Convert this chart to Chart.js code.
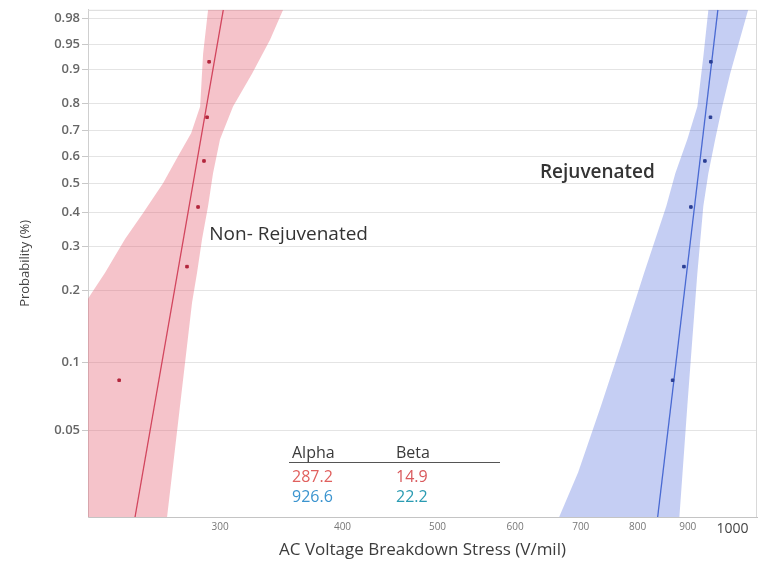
<!DOCTYPE html>
<html>
<head>
<meta charset="utf-8">
<script src="https://cdn.jsdelivr.net/npm/chart.js@4.4.1/dist/chart.umd.min.js"></script>
<style>
html,body{margin:0;padding:0;background:#fff;}
#wrap{width:764px;height:563px;position:relative;}
</style>
</head>
<body>
<div id="wrap"><canvas id="c" width="764" height="563"></canvas></div>
<script>
// ---- data ----
const probTicks = [0.05, 0.1, 0.2, 0.3, 0.4, 0.5, 0.6, 0.7, 0.8, 0.9, 0.95, 0.98];
const probTickLabels = ['0.05', '0.1', '0.2', '0.3', '0.4', '0.5', '0.6', '0.7', '0.8', '0.9', '0.95', '0.98'];
const voltageTicks = [300, 400, 500, 600, 700, 800, 900, 1000];
const probRange = [0.0204, 0.9864];
const voltageRange = [220, 1059];

const plotPositions = [0.0833, 0.25, 0.4167, 0.5833, 0.75, 0.9167];
const nonRejVoltage = [236.7, 277.6, 284.9, 288.9, 291.0, 292.4];
const rejVoltage = [868.6, 892.0, 906.7, 937.0, 949.4, 950.3];

const fitProb = [0.0204, 0.9864];
const nonRejFitVoltage = [245.7, 302.3];
const rejFitVoltage = [838.6, 966.0];

// confidence bands: lower-voltage edge and upper-voltage edge, top to bottom
const nonRejBandLoV = [291.7, 288.3, 286.3, 280.3, 271.8, 262.4, 250.4, 240.0, 228.9, 222.0, 157.6];
const nonRejBandLoP = [0.9864, 0.9334, 0.7886, 0.6897, 0.6012, 0.4997, 0.3968, 0.3194, 0.2361, 0.1961, 0.0204];
const nonRejBandHiV = [347.9, 337.4, 323.5, 309.3, 300.0, 295.1, 291.7, 287.6, 284.2, 280.9, 264.9];
const nonRejBandHiP = [0.9864, 0.9566, 0.8888, 0.7886, 0.6668, 0.5366, 0.4197, 0.3194, 0.2361, 0.1785, 0.0204];

const rejBandLoV = [944.7, 933.6, 920.6, 899.2, 874.2, 855.9, 812.3, 773.2, 734.3, 695.8, 665.4];
const rejBandLoP = [0.9864, 0.9276, 0.7886, 0.6668, 0.5366, 0.4197, 0.2361, 0.1260, 0.0645, 0.0325, 0.0204];
const rejBandHiV = [1037.3, 994.4, 975.9, 960.0, 944.7, 933.6, 920.6, 909.8, 899.2, 882.5];
const rejBandHiP = [0.9864, 0.8888, 0.7886, 0.6668, 0.5366, 0.4197, 0.2361, 0.1260, 0.0645, 0.0204];

const seriesNames = ['Non- Rejuvenated', 'Rejuvenated'];
const tableHeaders = ['Alpha', 'Beta'];
const nonRejParams = ['287.2', '14.9'];
const rejParams = ['926.6', '22.2'];

// ---- helpers ----
const W = p => Math.log(-Math.log(1 - p));   // Weibull probability transform
const pts = (vs, ps) => vs.map((v, i) => ({x: v, y: W(ps[i])}));
const polygon = (loV, loP, hiV, hiP) => pts(loV, loP).concat(pts(hiV, hiP).reverse());

const FONT = "'Open Sans', 'DejaVu Sans', sans-serif";

const labelAnchors = [
  {v: 292.5, p: 0.333, weight: '400', size: 19},
  {v: 636, p: 0.540, weight: '600', size: 19}
];

const overlayPlugin = {
  id: 'overlay',
  beforeDatasetsDraw(chart) {
    const {ctx, chartArea: a} = chart;
    ctx.save();
    ctx.strokeStyle = '#d9d9d9';
    ctx.lineWidth = 1;
    ctx.beginPath();
    ctx.moveTo(a.left, a.top + 0.5);
    ctx.lineTo(a.right - 0.5, a.top + 0.5);
    ctx.lineTo(a.right - 0.5, a.bottom);
    ctx.stroke();
    ctx.restore();
  },
  afterDatasetsDraw(chart) {
    const {ctx, scales: {x, y}} = chart;
    ctx.save();
    // series labels
    ctx.fillStyle = '#333';
    ctx.textBaseline = 'middle';
    ctx.textAlign = 'left';
    seriesNames.forEach((name, i) => {
      const an = labelAnchors[i];
      ctx.font = an.weight + ' ' + an.size + 'px ' + FONT;
      ctx.fillText(name, x.getPixelForValue(an.v), y.getPixelForValue(W(an.p)));
    });
    // parameter table
    const colX = [292, 396];
    ctx.font = '16px ' + FONT;
    ctx.fillStyle = '#3a3a3a';
    tableHeaders.forEach((h, i) => ctx.fillText(h, colX[i], 453));
    ctx.strokeStyle = '#555';
    ctx.lineWidth = 1.2;
    ctx.beginPath();
    ctx.moveTo(289, 462.5);
    ctx.lineTo(500, 462.5);
    ctx.stroke();
    const row1Colors = ['#e0605e', '#d9595c'];
    const row2Colors = ['#3b94cf', '#2a9bb2'];
    nonRejParams.forEach((t, i) => { ctx.fillStyle = row1Colors[i]; ctx.fillText(t, colX[i], 477); });
    rejParams.forEach((t, i) => { ctx.fillStyle = row2Colors[i]; ctx.fillText(t, colX[i], 497); });
    ctx.restore();
  }
};

new Chart(document.getElementById('c'), {
  type: 'scatter',
  data: {
    datasets: [
      {
        label: 'Non-Rejuvenated points',
        data: pts(nonRejVoltage, plotPositions),
        backgroundColor: '#b3273d', borderColor: '#b3273d',
        pointRadius: 1.8, pointStyle: 'rect', showLine: false, order: 1
      },
      {
        label: 'Rejuvenated points',
        data: pts(rejVoltage, plotPositions),
        backgroundColor: '#2b3f95', borderColor: '#2b3f95',
        pointRadius: 1.8, pointStyle: 'rect', showLine: false, order: 1
      },
      {
        label: 'Non-Rejuvenated fit',
        data: pts(nonRejFitVoltage, fitProb),
        showLine: true, borderColor: '#d2465e', borderWidth: 1.3,
        pointRadius: 0, fill: false, order: 2
      },
      {
        label: 'Rejuvenated fit',
        data: pts(rejFitVoltage, fitProb),
        showLine: true, borderColor: '#4a6ad2', borderWidth: 1.3,
        pointRadius: 0, fill: false, order: 2
      },
      {
        label: 'Non-Rejuvenated CI',
        data: polygon(nonRejBandLoV, nonRejBandLoP, nonRejBandHiV, nonRejBandHiP),
        showLine: true, fill: 'shape', tension: 0,
        backgroundColor: 'rgba(228,96,116,0.38)', borderColor: 'rgba(0,0,0,0)', borderWidth: 0,
        pointRadius: 0, order: 3
      },
      {
        label: 'Rejuvenated CI',
        data: polygon(rejBandLoV, rejBandLoP, rejBandHiV, rejBandHiP),
        showLine: true, fill: 'shape', tension: 0,
        backgroundColor: 'rgba(88,115,220,0.35)', borderColor: 'rgba(0,0,0,0)', borderWidth: 0,
        pointRadius: 0, order: 3
      }
    ]
  },
  options: {
    responsive: false,
    animation: false,
    events: [],
    layout: {padding: {left: 0, right: 7, top: 8, bottom: 0}},
    plugins: {legend: {display: false}, tooltip: {enabled: false}},
    scales: {
      x: {
        type: 'logarithmic',
        min: voltageRange[0], max: voltageRange[1],
        afterBuildTicks: s => { s.ticks = voltageTicks.map(v => ({value: v})); },
        afterFit: s => { s.height = 46; },
        grid: {display: false, drawTicks: false},
        border: {display: true, color: '#c4c4c4', width: 1},
        ticks: {
          autoSkip: false, maxRotation: 0, padding: 4,
          callback: v => String(v),
          color: c => (c.tick && c.tick.value === 1000) ? '#444' : '#777',
          font: c => (c.tick && c.tick.value === 1000) ? {family: FONT, size: 14} : {family: FONT, size: 10}
        },
        title: {
          display: true, text: 'AC Voltage Breakdown Stress (V/mil)',
          color: '#3c3c3c', font: {family: FONT, size: 17},
          padding: {top: 0, bottom: 3}
        }
      },
      y: {
        type: 'linear',
        min: W(probRange[0]), max: W(probRange[1]),
        afterBuildTicks: s => { s.ticks = probTicks.map(p => ({value: W(p)})); },
        afterFit: s => { s.width = 88; },
        grid: {color: '#e4e4e4', tickColor: '#c8c8c8', tickLength: 6, drawTicks: true},
        border: {display: true, color: '#cfcfcf', width: 1},
        ticks: {
          autoSkip: false, padding: 2,
          callback: (v, i) => probTickLabels[i],
          color: '#666', font: {family: FONT, size: 13, weight: '600'}
        },
        title: {
          display: true, text: 'Probability (%)',
          color: '#444', font: {family: FONT, size: 13},
          padding: {top: 17, bottom: 0}
        }
      }
    }
  },
  plugins: [overlayPlugin]
});
</script>
</body>
</html>
